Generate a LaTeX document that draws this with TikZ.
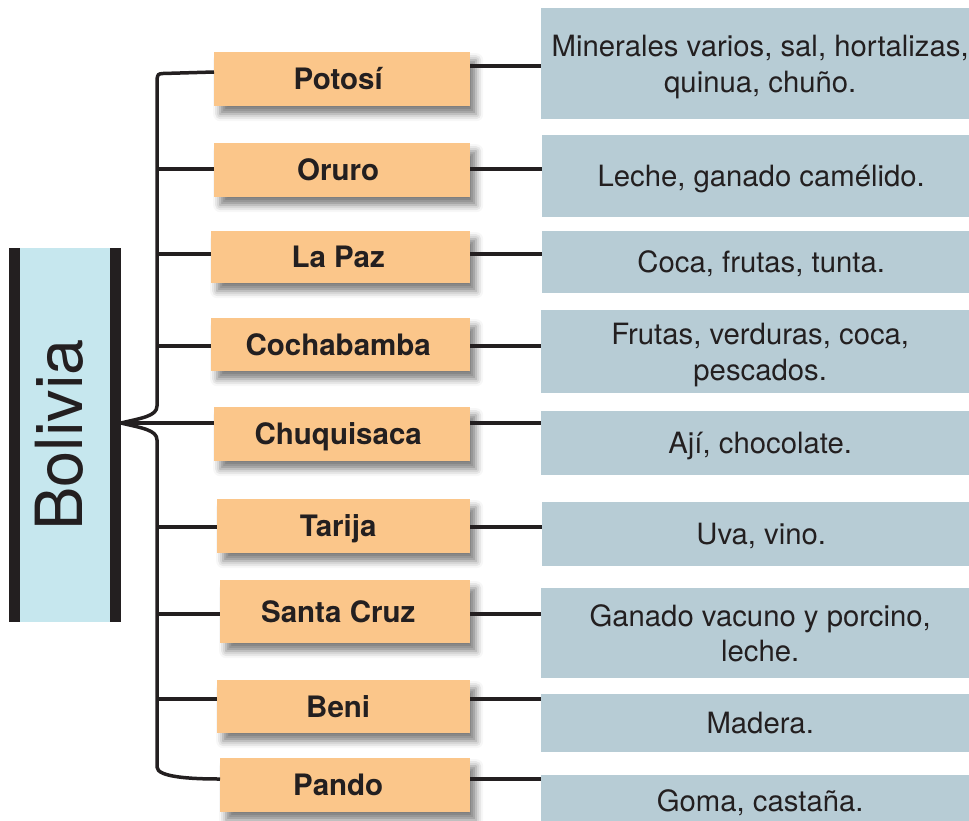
\documentclass[tikz,border=0pt]{standalone}
\usepackage{fontspec}
\setmainfont{TeX Gyre Heros}
\usetikzlibrary{shadows.blur}
\definecolor{orangebox}{HTML}{FBC68A}
\definecolor{bluebox}{HTML}{B7CCD5}
\definecolor{boliviafill}{HTML}{C6E7EE}
\definecolor{ink}{HTML}{231F20}
% shift a label left by #1 inside its box
\newcommand\provleft[2]{\hspace*{-#1}\hspace*{-#1}#2}
\begin{document}
\begin{tikzpicture}[x=1pt,y=-1pt,
  prov/.style={fill=orangebox, text=ink, anchor=north west, inner sep=0pt,
    font=\fontsize{29.5}{31}\selectfont\bfseries, text height=21pt, text depth=0pt,
    blur shadow={shadow xshift=6pt, shadow yshift=-8pt, shadow blur radius=7pt, shadow opacity=50}},
  prod/.style={fill=bluebox, text=ink, anchor=north west, inner sep=0pt, align=center,
    font=\fontsize{29.3}{35.5}\selectfont, text height=21pt, text depth=0pt, minimum width=438pt},
  prodtwo/.style={prod, text height=57pt},
  conn/.style={line width=4.5pt, draw=ink},
  bracepath/.style={line width=3.5pt, draw=ink, line join=round}]
\useasboundingbox (0,0) rectangle (969,820);

% Bolivia box
\node[fill=boliviafill, minimum width=90pt, minimum height=374pt, inner sep=0pt] (bolivia) at (65,435) {};
\fill[ink] ([xshift=-11pt]bolivia.north west) rectangle (bolivia.south west);
\fill[ink] (bolivia.north east) rectangle ([xshift=11pt]bolivia.south east);
\node[rotate=90, text=ink, font=\fontsize{65}{65}\selectfont, text height=47pt, text depth=0pt, inner sep=0pt] (boltext) at ([xshift=-6.5pt]bolivia.center) {Bolivia};

% province boxes
\node[prov, minimum width=256pt, minimum height=54pt] (p1) at (214,52) {\provleft{4pt}{Potosí}};
\node[prov, minimum width=256pt, minimum height=54pt] (p2) at (214,143) {\provleft{4pt}{Oruro}};
\node[prov, minimum width=259pt, minimum height=52pt] (p3) at (211,231) {\provleft{2.5pt}{La Paz}};
\node[prov, minimum width=259pt, minimum height=53pt] (p4) at (211,318) {\provleft{2.5pt}{Cochabamba}};
\node[prov, minimum width=256pt, minimum height=54pt] (p5) at (214,407) {\provleft{4pt}{Chuquisaca}};
\node[prov, minimum width=253pt, minimum height=54pt] (p6) at (217,499) {\provleft{5.5pt}{Tarija}};
\node[prov, minimum width=250pt, minimum height=63pt] (p7) at (220,580) {\provleft{7pt}{Santa Cruz}};
\node[prov, minimum width=253pt, minimum height=53pt] (p8) at (217,680) {\provleft{5.5pt}{Beni}};
\node[prov, minimum width=250pt, minimum height=54pt] (p9) at (220,758) {\provleft{7pt}{Pando}};

% product boxes
\node[prodtwo, minimum height=111pt] (b1) at (541,8) {Minerales varios, sal, hortalizas,\\quinua, chuño.};
\node[prod, minimum height=82pt] (b2) at (542,135) {Leche, ganado camélido.};
\node[prod, minimum height=62pt] (b3) at (542,231) {Coca, frutas, tunta.};
\node[prodtwo, minimum height=83pt] (b4) at (541,310) {Frutas, verduras, coca,\\pescados.};
\node[prod, minimum height=64pt] (b5) at (541,411) {Ají, chocolate.};
\node[prod, minimum height=64pt] (b6) at (542,502) {Uva, vino.};
\node[prodtwo, minimum height=90pt] (b7) at (541,588) {Ganado vacuno y porcino,\\leche.};
\node[prod, minimum height=58pt] (b8) at (541,694) {Madera.};
\node[prod, minimum height=52pt] (b9) at (541,775) {Goma, castaña.};

% row coordinates
\coordinate (spine) at (157,0);
\coordinate (tip) at (121,423);
\coordinate (l1) at (0,72);  \coordinate (r1) at (0,66);
\coordinate (l2) at (0,169); \coordinate (r2) at (0,169);
\coordinate (l3) at (0,254); \coordinate (r3) at (0,254);
\coordinate (l4) at (0,346); \coordinate (r4) at (0,346);
\coordinate (l5) at (0,423); \coordinate (r5) at (0,423);
\coordinate (l6) at (0,527); \coordinate (r6) at (0,527);
\coordinate (l7) at (0,614); \coordinate (r7) at (0,614);
\coordinate (l8) at (0,699); \coordinate (r8) at (0,699);
\coordinate (l9) at (0,779); \coordinate (r9) at (0,779);

% brace
\draw[bracepath] (l1 -| p1.west) -- (163,73.5) .. controls (158,74) .. (157,79)
  -- (157,406) .. controls (157,416) and (142,418) .. (tip)
  .. controls (142,428) and (157,430) .. (157,440)
  -- (157,767) .. controls (157,777) and (190,779) .. (l9 -| p9.west);

% left connectors
\draw[conn] (l2 -| spine) -- (l2 -| p2.west);
\draw[conn] (l3 -| spine) -- (l3 -| p3.west);
\draw[conn] (l4 -| spine) -- (l4 -| p4.west);
\draw[conn] (tip) -- (l5 -| p5.west);
\draw[conn] (l6 -| spine) -- (l6 -| p6.west);
\draw[conn] (l7 -| spine) -- (l7 -| p7.west);
\draw[conn] (l8 -| spine) -- (l8 -| p8.west);

% right connectors
\draw[conn, line width=3.5pt] (r1 -| p1.east) -- (r1 -| b1.west);
\draw[conn] (r2 -| p2.east) -- (r2 -| b2.west);
\draw[conn] (r3 -| p3.east) -- (r3 -| b3.west);
\draw[conn] (r4 -| p4.east) -- (r4 -| b4.west);
\draw[conn] (r5 -| p5.east) -- (r5 -| b5.west);
\draw[conn] (r6 -| p6.east) -- (r6 -| b6.west);
\draw[conn] (r7 -| p7.east) -- (r7 -| b7.west);
\draw[conn] (r8 -| p8.east) -- (r8 -| b8.west);
\draw[conn, line width=3.5pt] (r9 -| p9.east) -- (r9 -| b9.west);
\end{tikzpicture}
\end{document}
